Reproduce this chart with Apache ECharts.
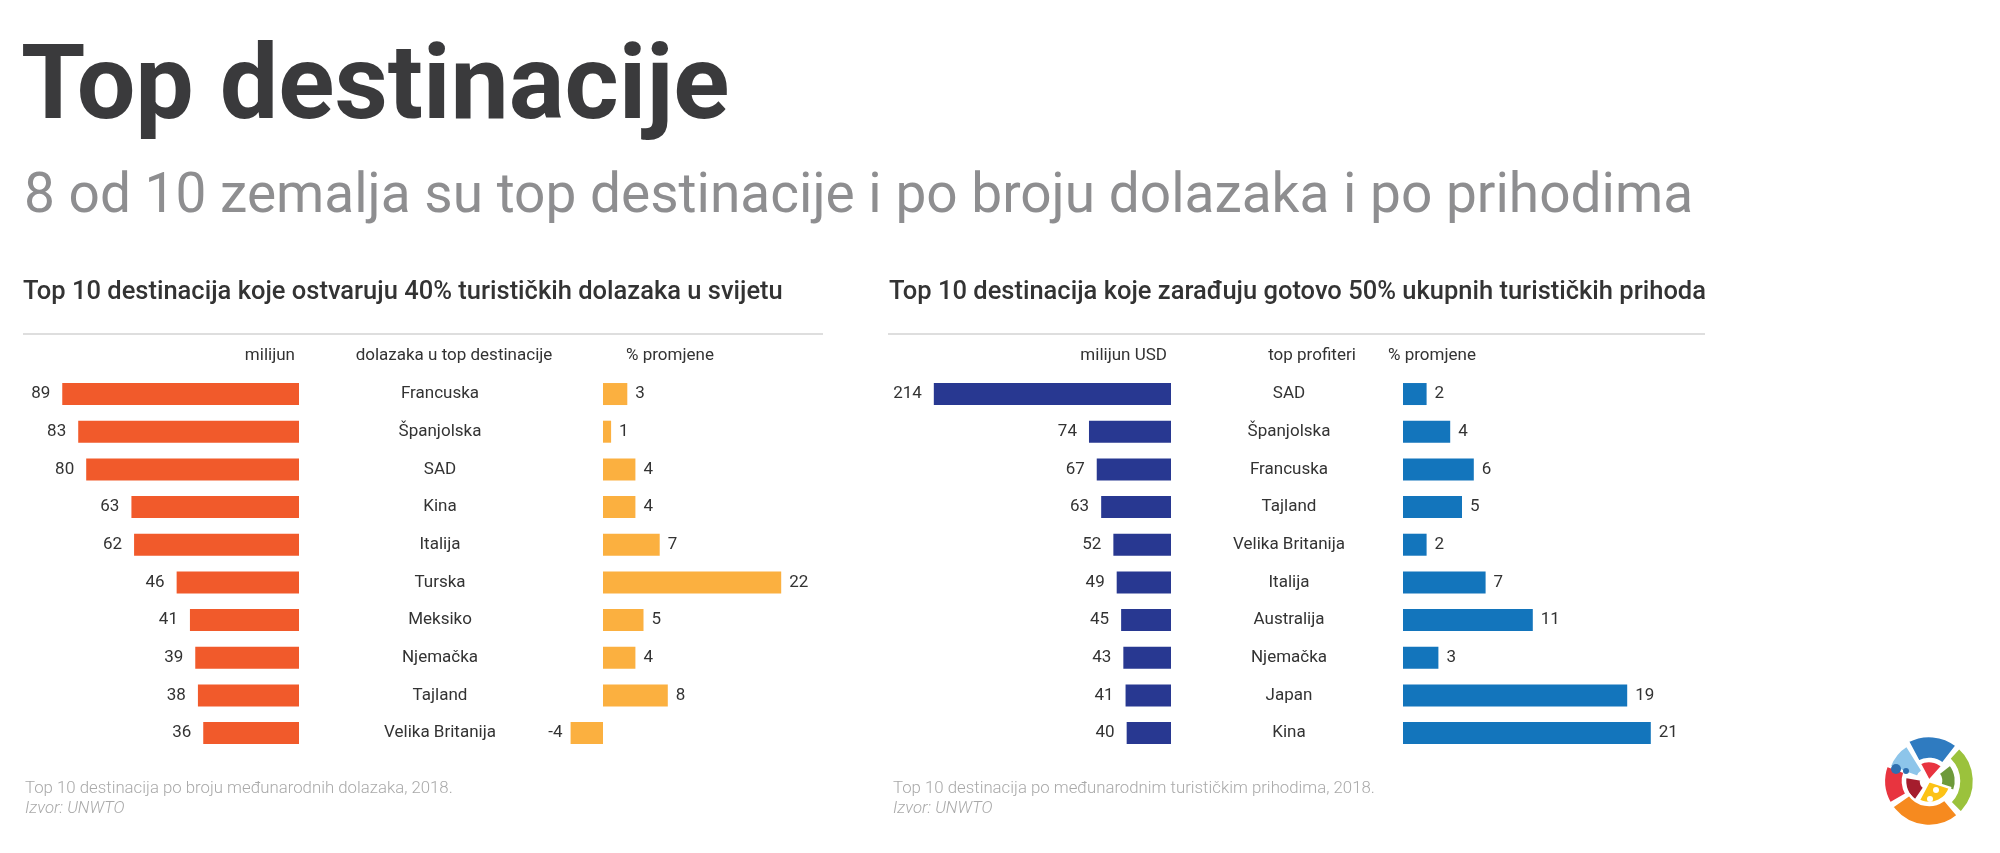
<!DOCTYPE html>
<html><head><meta charset="utf-8">
<script src="https://cdn.jsdelivr.net/npm/echarts@6/dist/echarts.min.js"></script>
<style>html,body{margin:0;padding:0;background:#fff}#c{width:2000px;height:853px}</style>
</head><body><div id="c"></div>
<script>
const arrivalCountries = ['Francuska','Španjolska','SAD','Kina','Italija','Turska','Meksiko','Njemačka','Tajland','Velika Britanija'];
const arrivalValues = [89,83,80,63,62,46,41,39,38,36];
const arrivalChange = [3,1,4,4,7,22,5,4,8,-4];
const revenueCountries = ['SAD','Španjolska','Francuska','Tajland','Velika Britanija','Italija','Australija','Njemačka','Japan','Kina'];
const revenueValues = [214,74,67,63,52,49,45,43,41,40];
const revenueChange = [2,4,6,5,2,7,11,3,19,21];

const FONT = 'Roboto';
const TXT = '#333333';
const chart = echarts.init(document.getElementById('c'));
const gTop = 375.2, gH = 376.7;
const lbl = (pos, d) => ({show:true, position:pos, distance:d, color:TXT, fontSize:17, fontFamily:FONT});
const signed = arr => arr.map(v => ({value:v, label: lbl(v < 0 ? 'left' : 'right', 8)}));
const hidY = (data, idx) => ({type:'category', data, inverse:true, gridIndex:idx, show:false});
const nameY = (data, idx, margin) => ({type:'category', data, inverse:true, gridIndex:idx, position:'right',
  axisLine:{show:false}, axisTick:{show:false}, splitLine:{show:false},
  axisLabel:{margin, align:'center', color:TXT, fontSize:17, fontFamily:FONT}});

function txt(text, x, y, font, fill, align) {
  return {type:'text', x, y, style:{text, font, fill, textAlign:align||'left', textVerticalAlign:'middle'}};
}
const cx = 1929, cy = 781;
function sec(r0, r, a0, a1, fill) {
  return {type:'sector', shape:{cx, cy, r0, r, startAngle:a0*Math.PI/180, endAngle:a1*Math.PI/180},
    style:{fill, stroke:'#fff', lineWidth:2.5}};
}

chart.setOption({
  backgroundColor:'#ffffff',
  animation:false,
  grid:[
    {left:33, width:266, top:gTop, height:gH},
    {left:562.5, width:243, top:gTop, height:gH},
    {left:905, width:266, top:gTop, height:gH},
    {left:1403, width:295, top:gTop, height:gH}
  ],
  xAxis:[
    {type:'value', gridIndex:0, min:0, max:100, inverse:true, show:false},
    {type:'value', gridIndex:1, min:-5, max:25, show:false},
    {type:'value', gridIndex:2, min:0, max:240, inverse:true, show:false},
    {type:'value', gridIndex:3, min:0, max:25, show:false}
  ],
  yAxis:[
    nameY(arrivalCountries, 0, 141),
    hidY(arrivalCountries, 1),
    nameY(revenueCountries, 2, 118),
    hidY(revenueCountries, 3)
  ],
  series:[
    {type:'bar', xAxisIndex:0, yAxisIndex:0, data:arrivalValues, barWidth:22, itemStyle:{color:'#F15A2B'}, label:lbl('left', 12)},
    {type:'bar', xAxisIndex:1, yAxisIndex:1, data:signed(arrivalChange), barWidth:22, itemStyle:{color:'#FBB040'}},
    {type:'bar', xAxisIndex:2, yAxisIndex:2, data:revenueValues, barWidth:22, itemStyle:{color:'#283891'}, label:lbl('left', 12)},
    {type:'bar', xAxisIndex:3, yAxisIndex:3, data:signed(revenueChange), barWidth:22, itemStyle:{color:'#1375BC'}}
  ],
  graphic:[
    txt('Top destinacije', 21, 92, 'bold 104px '+FONT, '#3a3a3c'),
    txt('8 od 10 zemalja su top destinacije i po broju dolazaka i po prihodima', 24, 198, '400 55px '+FONT, '#8e8e90'),
    txt('Top 10 destinacija koje ostvaruju 40% turističkih dolazaka u svijetu', 23, 293, '500 25.5px '+FONT, TXT),
    txt('Top 10 destinacija koje zarađuju gotovo 50% ukupnih turističkih prihoda', 889, 293, '500 25.5px '+FONT, TXT),
    {type:'line', shape:{x1:23, y1:334, x2:823, y2:334}, style:{stroke:'#d3d3d3', lineWidth:1.5}},
    {type:'line', shape:{x1:888, y1:334, x2:1705, y2:334}, style:{stroke:'#d3d3d3', lineWidth:1.5}},
    txt('milijun', 295, 356, '400 17px '+FONT, TXT, 'right'),
    txt('dolazaka u top destinacije', 454, 356, '400 17px '+FONT, TXT, 'center'),
    txt('% promjene', 670, 356, '400 17px '+FONT, TXT, 'center'),
    txt('milijun USD', 1167, 356, '400 17px '+FONT, TXT, 'right'),
    txt('top profiteri', 1312, 356, '400 17px '+FONT, TXT, 'center'),
    txt('% promjene', 1432, 356, '400 17px '+FONT, TXT, 'center'),
    txt('Top 10 destinacija po broju međunarodnih dolazaka, 2018.', 25, 789, '300 16.8px '+FONT, '#a9a9a9'),
    txt('Izvor: UNWTO', 25, 809, 'italic 300 16.8px '+FONT, '#a9a9a9'),
    txt('Top 10 destinacija po međunarodnim turističkim prihodima, 2018.', 893, 789, '300 16.8px '+FONT, '#a9a9a9'),
    txt('Izvor: UNWTO', 893, 809, 'italic 300 16.8px '+FONT, '#a9a9a9'),
    sec(22, 45, -118, -52, '#2F7BC0'),
    sec(12, 42, -160, -122, '#8DC5EA'),
    sec(30, 45, -48, 45, '#9BC23C'),
    sec(12, 27, -38, 22, '#6E9A3A'),
    sec(26, 45, 150, 200, '#E8343F'),
    sec(8, 24, 125, 190, '#A51D2D'),
    sec(0, 22, 18, 118, '#FCC216'),
    sec(0, 20, -118, -48, '#E8343F'),
    sec(24, 45, 50, 145, '#F68A1F'),
    {type:'circle', shape:{cx:1896, cy:769, r:5}, style:{fill:'#2E6FB0'}},
    {type:'circle', shape:{cx:1906, cy:771, r:3}, style:{fill:'#2E6FB0'}},
    {type:'circle', shape:{cx:1936, cy:790, r:3}, style:{fill:'#fff'}},
    {type:'circle', shape:{cx:1930, cy:799, r:3}, style:{fill:'#fff'}}
  ]
});
</script></body></html>
